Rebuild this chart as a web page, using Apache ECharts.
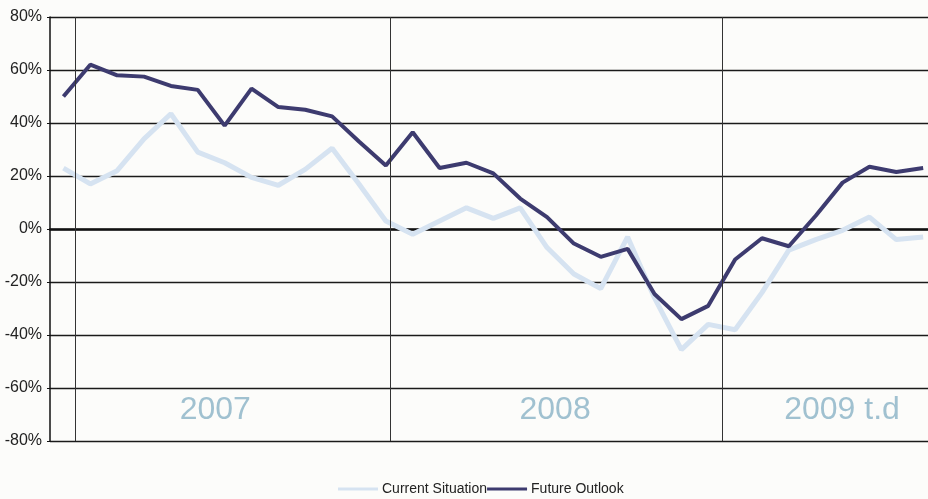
<!DOCTYPE html>
<html>
<head>
<meta charset="utf-8">
<script src="https://cdn.jsdelivr.net/npm/echarts@6/dist/echarts.min.js"></script>
<style>
html,body{margin:0;padding:0;background:#fcfcfa;}
#chart{width:928px;height:499px;}
</style>
</head>
<body>
<div id="chart"></div>
<script>
// Survey values (%) by month, Jan 2007 -> 2009 to date
var currentSituation = [23, 17, 22, 34, 43.5, 29, 25, 19.5, 16.5, 22.5, 30.5, 17, 3, -2, 3, 8, 4, 8, -7, -17, -22.5, -3, -26, -45.5, -36, -38, -24, -8, -4, -0.5, 4.5, -4, -3];
var futureOutlook    = [50, 62, 58, 57.5, 54, 52.5, 39, 53, 46, 45, 42.5, 33, 24, 36.5, 23, 25, 21, 11.5, 4.5, -5.5, -10.5, -7.5, -24.5, -34, -29, -11.5, -3.5, -6.5, 5, 17.5, 23.5, 21.5, 23];
var yearNames = ['2007', '2008', '2009 t.d'];
var yearLabelAt = [5.65, 18.3, 28.98];   // month position of each year caption
var yearDividers = [0.45, 12.18, 24.51];  // month position of the vertical separators
var yTicks = [-80, -60, -40, -20, 0, 20, 40, 60, 80];

function toPairs(arr){ return arr.map(function(v,i){ return [i, v]; }); }

var chart = echarts.init(document.getElementById('chart'), null, {renderer:'canvas'});
var option = {
  backgroundColor: '#fcfcfa',
  animation: false,
  grid: {left: 50, right: 0, top: 17, bottom: 58, containLabel: false},
  legend: {
    left: 338, top: 482, padding: 0,
    itemGap: 0, itemWidth: 40, itemHeight: 3, icon: 'rect',
    textStyle: {fontFamily: 'Liberation Sans', fontSize: 14, color: '#222', padding: [0, 0, 0, -1]},
    data: ['Current Situation', 'Future Outlook']
  },
  xAxis: {
    type: 'value', min: -0.5, max: 32.18,
    axisLine: {show: true, onZero: true, lineStyle: {color: '#111', width: 2.5}},
    axisTick: {show: false}, axisLabel: {show: false}, splitLine: {show: false}
  },
  yAxis: {
    type: 'value', min: yTicks[0], max: yTicks[yTicks.length-1], interval: 20,
    axisLine: {show: true, onZero: false, lineStyle: {color: '#111', width: 1.5}},
    axisTick: {show: true, length: 3, lineStyle: {color: '#111'}},
    axisLabel: {formatter: '{value}%', margin: 8, fontFamily: 'Liberation Sans', fontSize: 16, color: '#222'},
    splitLine: {show: true, lineStyle: {color: '#1a1a1a', width: 1.3}}
  },
  series: [
    {
      name: 'Current Situation', type: 'line', data: toPairs(currentSituation),
      symbol: 'none', lineStyle: {color: '#d6e3f1', width: 5}, itemStyle: {color: '#d6e3f1'}, z: 2
    },
    {
      name: 'Future Outlook', type: 'line', data: toPairs(futureOutlook),
      symbol: 'none', lineStyle: {color: '#3d3b6f', width: 4}, itemStyle: {color: '#3d3b6f'}, z: 3
    },
    {
      name: 'years', type: 'scatter', symbolSize: 0, z: 1,
      data: yearNames.map(function(n,i){ return {name: n, value: [yearLabelAt[i], -68.4]}; }),
      itemStyle: {color: 'rgba(0,0,0,0)'},
      label: {show: true, position: 'inside', formatter: '{b}', fontFamily: 'Liberation Sans', fontSize: 32, color: '#88b2c6'},
      markLine: {
        silent: true, symbol: 'none', label: {show: false},
        lineStyle: {color: '#333', width: 1, type: 'solid'},
        data: yearDividers.map(function(x){ return {xAxis: x}; })
      }
    }
  ]
};
chart.setOption(option);
</script>
</body>
</html>
